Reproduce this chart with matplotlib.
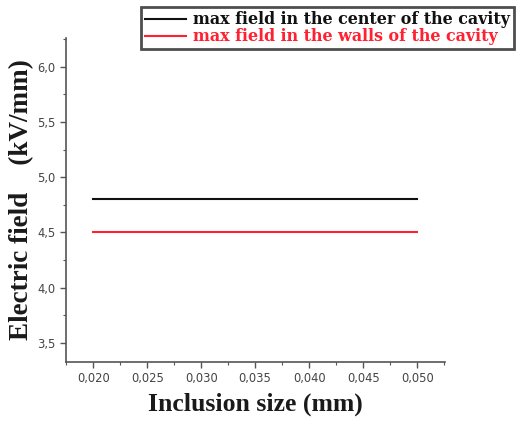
import numpy as np
import matplotlib.pyplot as plt
from matplotlib.ticker import MultipleLocator, FuncFormatter

# data
inclusion_size = [0.020, 0.050]
field_center = [4.8, 4.8]
field_walls = [4.5, 4.5]

fig = plt.figure(figsize=(5.19, 4.22), dpi=100)
ax = fig.add_axes([0.127, 0.142, 0.730, 0.768])

ax.plot(inclusion_size, field_center, color='#111111', lw=1.5,
        label='max field in the center of the cavity')
ax.plot(inclusion_size, field_walls, color='#ff2030', lw=1.5,
        label='max field in the walls of the cavity')

ax.set_xlim(0.01747, 0.05256)
ax.set_ylim(3.325, 6.26)

for s in ['top', 'right']:
    ax.spines[s].set_visible(False)
for s in ['left', 'bottom']:
    ax.spines[s].set_color('#555555')
    ax.spines[s].set_linewidth(1.2)

ax.xaxis.set_major_locator(MultipleLocator(0.005))
ax.xaxis.set_minor_locator(MultipleLocator(0.0025))
ax.yaxis.set_major_locator(MultipleLocator(0.5))
ax.yaxis.set_minor_locator(MultipleLocator(0.25))
ax.xaxis.set_major_formatter(FuncFormatter(lambda v, p: f'{v:.3f}'.replace('.', ',')))
ax.yaxis.set_major_formatter(FuncFormatter(lambda v, p: f'{v:.1f}'.replace('.', ',')))
ax.tick_params(which='major', direction='out', length=4, width=1, color='#555555',
               labelsize=8.3, labelcolor='#444444')
ax.tick_params(which='minor', direction='out', length=2.5, width=0.8, color='#555555')

ax.set_xlabel('Inclusion size (mm)', labelpad=5, family='Liberation Serif',
              weight='bold', size=18.5, color='#1a1a1a')
ax.set_ylabel('Electric field    (kV/mm)', labelpad=2, family='Liberation Serif',
              weight='bold', size=19.5, color='#1a1a1a')

leg = fig.legend(loc='upper left', bbox_to_anchor=(0.272, 0.983),
                 prop=dict(family='DejaVu Serif', weight='bold', size=11.4),
                 frameon=True, fancybox=False, handlelength=2.6, handletextpad=0.4,
                 borderpad=0.25, labelspacing=0.02, borderaxespad=0)
leg.get_frame().set_edgecolor('#222222')
leg.get_frame().set_linewidth(2)
for t, c in zip(leg.get_texts(), ['#111111', '#ff2030']):
    t.set_color(c)

fig.savefig('out.png', dpi=100)
